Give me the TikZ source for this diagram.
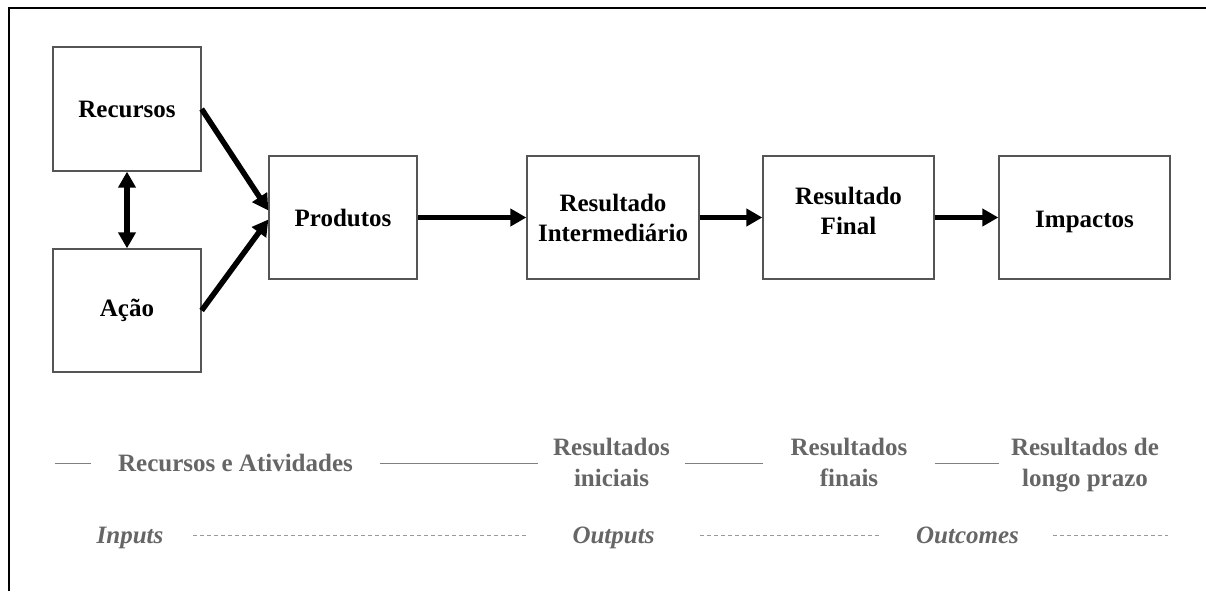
\documentclass[tikz,border=0pt]{standalone}
\usepackage{fontspec}
\setmainfont{Liberation Serif}
\usetikzlibrary{arrows.meta}
\definecolor{boxgray}{HTML}{555555}
\definecolor{labelgray}{HTML}{666666}
\definecolor{linegray}{HTML}{808080}
\tikzstyle{box}=[rectangle, draw=boxgray, line width=1.3pt, align=center, inner sep=0pt, font=\fontsize{25}{30}\selectfont\bfseries]
\tikzstyle{stage}=[align=center, text=labelgray, inner sep=0pt, text depth=6pt, font=\fontsize{25}{31}\selectfont\bfseries]
\tikzstyle{kind}=[text=labelgray, inner sep=0pt, text height=17pt, text depth=6pt, font=\fontsize{25}{30}\selectfont\bfseries\itshape]
\tikzstyle{arrow}=[draw=black, line width=5.5pt, -{Triangle[length=16pt,width=17pt]}]
\tikzstyle{twoway}=[arrow, {Triangle[length=16pt,width=17pt]}-{Triangle[length=16pt,width=17pt]}]
\tikzstyle{rule}=[draw=linegray, line width=1pt]
\tikzstyle{dashrule}=[draw=linegray!80, line width=1pt, dash pattern=on 4pt off 3pt]

\begin{document}
\begin{tikzpicture}[x=1pt, y=-1pt]
		   \useasboundingbox (0,0) rectangle (1206,591);
		   \draw [line width=2pt] (9,591) -- (9,8) -- (1206,8);
		   \begin{scope}
			   \node (rec) at (127,109)[box, minimum width=148, minimum height=124] {Recursos};
			   \node (acao) at (127,310.5)[box, minimum width=148, minimum height=123] {Ação};
			   \node (prod) at (343,217.5)[box, minimum width=148, minimum height=123] {Produtos};
			   \node (inter) at (613,217.5)[box, minimum width=172, minimum height=123] {Resultado\\Intermediário};
			   \node (final) at (848.5,217.5)[box, minimum width=171, minimum height=123, text depth=13pt] {Resultado\\Final};
			   \node (imp) at (1084.5,217.5)[box, minimum width=171, minimum height=123, text height=25pt] {Impactos};
		   \end{scope}
		   \begin{scope}
			   \coordinate (r0) at (55,463.5);
			   \node (r1) at (235.5,465.5)[stage, minimum width=289] {Recursos e Atividades};
			   \node (r2) at (611.5,465.5)[stage, minimum width=147] {Resultados\\iniciais};
			   \node (r3) at (849,465.5)[stage, minimum width=172] {Resultados\\finais};
			   \node (r4) at (1085,465.5)[stage, minimum width=172] {Resultados de\\longo prazo};
			   \node (k1) at (130,538)[kind, minimum width=126] {Inputs};
			   \node (k2) at (613.5,538)[kind, minimum width=173] {Outputs};
			   \node (k3) at (967.5,538)[kind, minimum width=171] {Outcomes};
			   \coordinate (k4) at (1168,535);
		   \end{scope}
		   \begin{scope}
			   \path (rec.east) edge [arrow] ([yshift=7pt]prod.west);
			   \path (acao.east) edge [arrow] ([yshift=-2pt]prod.west);
			   \path (rec.south) edge [twoway] (acao.north);
			   \path (prod.east) edge [arrow] (inter.west);
			   \path (inter.east) edge [arrow] (final.west);
			   \path (final.east) edge [arrow] (imp.west);
		   \end{scope}
		   \begin{scope}
			   \path (r0) edge [rule] (r0 -| r1.west);
			   \path (r1.east |- r0) edge [rule] (r2.west |- r0);
			   \path (r2.east |- r0) edge [rule] (r3.west |- r0);
			   \path (r3.east |- r0) edge [rule] (r4.west |- r0);
			   \path (k1.east |- k4) edge [dashrule] (k2.west |- k4);
			   \path (k2.east |- k4) edge [dashrule] (k3.west |- k4);
			   \path (k3.east |- k4) edge [dashrule] (k4);
		   \end{scope}
	   \end{tikzpicture}
\end{document}
